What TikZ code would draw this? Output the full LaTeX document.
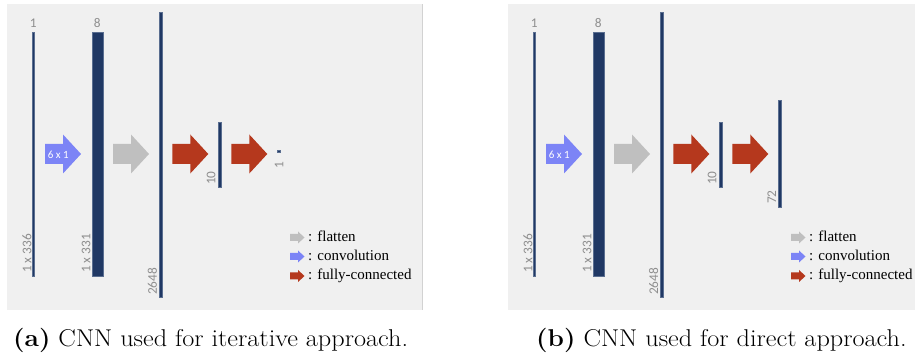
\documentclass[tikz,border=0pt]{standalone}
\usepackage{fontspec}
\usepackage{graphicx}
\newfontfamily\lblfont{Carlito}
\newfontfamily\legfont{Liberation Serif}
\definecolor{panelbg}{HTML}{F0F0F0}
\definecolor{panelline}{HTML}{D2D2D2}
\definecolor{navy}{HTML}{203864}
\definecolor{baredge}{HTML}{5A6E90}
\definecolor{convblue}{HTML}{7C84F6}
\definecolor{flatgray}{HTML}{BFBFBF}
\definecolor{fcred}{HTML}{B5381D}
\definecolor{lblgray}{HTML}{8E8E8E}
\tikzset{
  fatarrow/.pic={\path[pic actions] (0,-10) -- (18,-10) -- (18,-19.5) -- (36,0) -- (18,19.5) -- (18,10) -- (0,10) -- cycle;},
  smallarrow/.pic={\path[pic actions] (0,-3.5) -- (8,-3.5) -- (8,-6) -- (14.5,0) -- (8,6) -- (8,3.5) -- (0,3.5) -- cycle;},
  bar/.style={rectangle, fill=navy, draw=baredge, line width=0.3pt, inner sep=0pt, outer sep=0pt},
  lbl/.style={font=\lblfont\fontsize{13.3}{15}\selectfont, text=lblgray, inner sep=0pt},
  rotlbl/.style={lbl, rotate=90, anchor=west},
  legtext/.style={font=\legfont\fontsize{15}{18}\selectfont, text=black, inner sep=0pt, anchor=base west},
  caption/.style={font=\fontsize{24.3}{29}\selectfont, inner sep=0pt, anchor=base west}
}
\begin{document}
\begin{tikzpicture}[x=1pt,y=1pt]
\useasboundingbox (0,0) rectangle (915,356);
% panels
\fill[panelbg] (7,46) rectangle (422,352);
\draw[panelline, line width=0.8pt] (422,46) -- (422,352);
\fill[panelbg] (508,46) rectangle (915,352);

\foreach \p/\dx in {a/0,b/501}{
\begin{scope}[xshift=\dx pt]
  % layers
  \node[bar, minimum width=2.4pt, minimum height=244pt] (\p-bar1) at (33.4,202) {};
  \node[bar, minimum width=11.6pt, minimum height=244pt] (\p-bar8) at (97.5,202) {};
  \node[bar, minimum width=2.4pt, minimum height=285pt] (\p-bar2648) at (160.7,201.5) {};
  \node[bar, minimum width=2.4pt, minimum height=65pt] (\p-bar10) at (219.5,201.7) {};
  % labels
  \node[lbl] (\p-l1) at (33.3,333) {1};
  \node[lbl] (\p-l8) at (97.3,333) {8};
  \node[rotlbl] (\p-l336) at (27,83) {1 x 336};
  \node[rotlbl] (\p-l331) at (86,83) {1 x 331};
  \node[rotlbl] (\p-l2648) at (152.5,61) {2648};
  \node[rotlbl] (\p-l10) at (211,171) {10};
  % operation arrows
  \pic[fill=convblue] (\p-conv) at (45,202) {fatarrow};
  \node[font=\lblfont\fontsize{11}{13}\selectfont, text=white, inner sep=0pt] (\p-k) at (58.3,201) {6 x 1};
  \pic[fill=flatgray] (\p-flat) at (113,202) {fatarrow};
  \pic[fill=fcred] (\p-fc1) at (172.3,202) {fatarrow};
  \pic[fill=fcred] (\p-fc2) at (231.3,202) {fatarrow};
  % legend
  \pic[fill=flatgray] (\p-lg1) at (290,118.5) {smallarrow};
  \pic[fill=convblue] (\p-lg2) at (290,99.5) {smallarrow};
  \pic[fill=fcred] (\p-lg3) at (290,80) {smallarrow};
  \node[legtext] (\p-lt1) at (308,114.5) {: flatten};
  \node[legtext] (\p-lt2) at (308,95.5) {: convolution};
  \node[legtext] (\p-lt3) at (308,76.5) {: fully-connected};
\end{scope}
}
% panel a output
\node[bar, fill=navy, minimum width=2.6pt, minimum height=2.6pt] (a-out) at (278.7,204.7) {};
\node[rotlbl] (a-lout) at (279,187.7) {1};
% panel b output
\node[bar, minimum width=2.4pt, minimum height=107pt] (b-out) at (779.5,202.5) {};
\node[rotlbl] (b-lout) at (771.7,152) {72};
% captions
\node[caption] (capa) at (13,10) {\scalebox{1.08}[1]{\textbf{(a)} CNN used for iterative approach.}};
\node[caption] (capb) at (536,10) {\scalebox{1.08}[1]{\textbf{(b)} CNN used for direct approach.}};
\end{tikzpicture}
\end{document}
